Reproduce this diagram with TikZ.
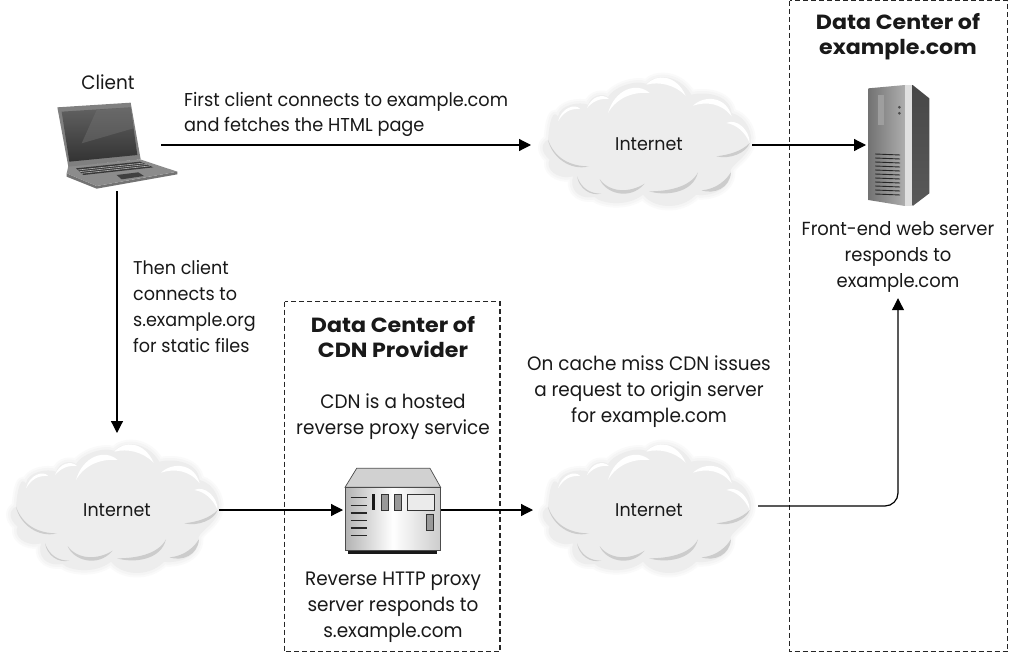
\documentclass[tikz,border=0pt]{standalone}
\usepackage{fontspec}
\setmainfont{Poppins}[FakeStretch=0.95]
\newfontfamily\headfont{Poppins}[FakeStretch=1.08,UprightFont=* Bold]
\usetikzlibrary{arrows.meta,calc}
\newcommand{\cloudoutline}{(85,240) .. controls (90,180) and (100,150) .. (115,170)
 .. controls (120,135) and (180,125) .. (205,135)
 .. controls (215,105) and (250,100) .. (265,112)
 .. controls (280,85) and (340,60) .. (380,72)
 .. controls (410,40) and (480,45) .. (515,105)
 .. controls (560,95) and (630,105) .. (636,160)
 .. controls (680,170) and (705,225) .. (690,262)
 .. controls (675,295) and (645,310) .. (633,330)
 .. controls (640,390) and (570,412) .. (530,405)
 .. controls (480,455) and (400,445) .. (370,405)
 .. controls (320,445) and (240,430) .. (225,412)
 .. controls (170,420) and (150,385) .. (160,350)
 .. controls (110,362) and (75,325) .. (90,300)
 .. controls (60,275) and (65,250) .. (85,240) -- cycle}
\tikzset{
 cloudpic/.pic={
  \begin{scope}[shift={(-129.33,-83.33)},scale=1/3]
   \draw[line width=9pt,color=black!2,line join=round,fill=black!2] \cloudoutline;
   \draw[line width=5pt,color=black!4,line join=round,fill=black!4] \cloudoutline;
   \fill[color=black!7] \cloudoutline;
   \fill[color=black!20] (85,240) .. controls (95,290) and (150,335) .. (208,320) .. controls (150,320) and (105,295) .. (85,240) -- cycle;
   \fill[color=black!20] (172,350) .. controls (178,385) and (210,410) .. (245,402) .. controls (210,402) and (185,385) .. (172,350) -- cycle;
   \fill[color=black!20] (240,358) .. controls (255,400) and (330,425) .. (375,372) .. controls (330,400) and (270,400) .. (240,358) -- cycle;
   \fill[color=black!20] (388,395) .. controls (440,410) and (520,400) .. (535,338) .. controls (510,385) and (440,395) .. (388,395) -- cycle;
   \fill[color=black!20] (545,392) .. controls (585,405) and (630,385) .. (634,338) .. controls (610,375) and (575,390) .. (545,392) -- cycle;
   \fill[color=black!20] (590,290) .. controls (630,300) and (680,280) .. (690,250) .. controls (665,275) and (630,285) .. (590,290) -- cycle;
   \fill[white] (115,185) .. controls (125,145) and (165,130) .. (182,148) .. controls (150,145) and (130,160) .. (115,185) -- cycle;
   \fill[white] (202,145) .. controls (215,110) and (250,100) .. (268,118) .. controls (240,115) and (220,125) .. (202,145) -- cycle;
   \fill[white] (265,160) .. controls (285,90) and (350,65) .. (390,100) .. controls (340,95) and (290,115) .. (265,160) -- cycle;
   \fill[white] (380,75) .. controls (410,40) and (470,45) .. (498,108) .. controls (465,75) and (420,65) .. (380,75) -- cycle;
   \fill[white] (520,138) .. controls (555,105) and (620,110) .. (636,170) .. controls (605,130) and (560,125) .. (520,138) -- cycle;
   \fill[white] (620,190) .. controls (650,175) and (690,210) .. (690,250) .. controls (675,215) and (650,195) .. (620,190) -- cycle;
  \end{scope}
 },
 lbl/.style={inner sep=0pt,align=center,font=\fontsize{19.4}{25.8}\selectfont,text=black!90},
 lbll/.style={lbl,align=left,anchor=west},
 tight/.style={font=\fontsize{#1}{25.8}\selectfont},
 head/.style={lbl,font=\fontsize{20.5}{25.5}\selectfont\headfont},
 hold/.style={inner sep=0pt,outer sep=0pt},
 zone/.style={draw=black!85,line width=1.2pt,dash pattern=on 5pt off 3pt},
 link/.style={draw=black,line width=1.2pt,-{Triangle[length=12pt,width=12pt]}},
}
\begin{document}
\begin{tikzpicture}[x=1pt,y=-1pt]
\useasboundingbox (0,0) rectangle (1009,653);
\fill[white] (0,0) rectangle (1009,653);
% dashed zones
\draw[zone] (789.5,0.8) rectangle (1007.5,651.8);
\draw[zone] (284.5,301.5) rectangle (500,651.8);
% anchors for icons and clouds
\node[hold,minimum width=88pt,minimum height=92pt] (laptop) at (117,145) {};
\node[hold,minimum width=221pt,minimum height=150pt] (cloudA) at (641.5,145) {};
\node[hold,minimum width=204pt,minimum height=154pt] (cloudB) at (117,510) {};
\node[hold,minimum width=225pt,minimum height=150pt] (cloudC) at (645.5,510) {};
\node[hold,minimum width=98pt,minimum height=86pt] (proxy) at (392,510) {};
\node[hold,minimum width=64pt,minimum height=122pt] (server) at (898,145) {};
% clouds
\pic at (649,143) {cloudpic};
\pic at (117,510) {cloudpic};
\pic at (649,510) {cloudpic};
% laptop
\begin{scope}[shift={(40,60)},scale=1/3]
 \fill[black!55] (80,340) -- (170,378) -- (412,335) -- (412,343) -- (170,386) -- (80,350) -- cycle;
 \fill[black!45] (85,318) -- (300,298) -- (412,335) -- (170,378) -- (80,340) -- cycle;
 \fill[black!78] (108,325) -- (300,305) -- (340,322) -- (130,345) -- cycle;
 \foreach \t in {0.25,0.5,0.75}{
  \draw[black!30,line width=0.6pt] ($(108,325)!\t!(130,345)$) -- ($(300,305)!\t!(340,322)$);
 }
 \fill[black!75] (230,345) -- (295,337) -- (312,348) -- (245,358) -- cycle;
 \fill[black!50] (52,142) -- (272,128) -- (302,298) -- (85,320) -- cycle;
 \shade[top color=black!62,bottom color=black!80] (65,155) -- (272,142) -- (292,285) -- (88,305) -- cycle;
 \fill[black!55,opacity=.45] (170,150) -- (272,142) -- (280,205) -- (125,250) -- cycle;
\end{scope}
% server
\begin{scope}[shift={(780,0)},scale=1/3]
 \shade[left color=black!55,right color=black!32] (265,265) -- (375,255) -- (375,618) -- (265,600) -- cycle;
 \fill[black!12] (375,255) -- (398,255) -- (398,618) -- (375,618) -- cycle;
 \shade[top color=black!72,middle color=black!28,bottom color=black!65] (398,255) -- (448,295) -- (448,580) -- (398,618) -- cycle;
 \fill[black!38] (295,285) rectangle (312,375);
 \fill[black!70] (358,322) circle (4.5);
 \fill[black!70] (358,340) circle (4.5);
 \foreach \y in {462,474,486,498,510,522,534,546,558,570,582}{
  \draw[black!85,line width=0.9pt] (285,\y) -- (360,\y+3);
 }
\end{scope}
% proxy
\begin{scope}[shift={(320,450)},scale=1/3]
 \fill[black!90] (85,298) rectangle (352,313);
 \draw[black!70,fill=black!18,line width=0.7pt] (110,55) -- (330,55) -- (362,112) -- (75,112) -- cycle;
 \shade[left color=black!30,right color=black!20,middle color=white,draw=black!70,line width=0.7pt] (75,112) rectangle (362,300);
 \foreach \y in {143,166,189,211,234,257}{
  \draw[black!85,line width=1.2pt] (92,\y) -- (140,\y);
 }
 \fill[black!90] (157,133) rectangle (165,180);
 \draw[black!80,fill=black!40,line width=0.7pt] (184,133) rectangle (206,180);
 \draw[black!80,fill=black!40,line width=0.7pt] (223,133) rectangle (245,180);
 \draw[black!80,fill=black!8,line width=0.7pt] (263,133) rectangle (342,180);
 \draw[black!80,fill=black!40,line width=0.7pt] (318,193) rectangle (340,242);
\end{scope}
% text
\node[lbl] (tClient) at (108,82) {Client};
\node[lbll,tight=18.65] (tFirst) at (184,114.5) {First client connects to example.com\\and fetches the HTML page};
\node[lbll,tight=18.5] (tThen) at (133,306.5) {Then client\\connects to\\s.example.org\\for static files};
\node[head] (tCdnHead) at (393,337) {Data Center of\\CDN Provider};
\node[lbl] (tCdn) at (393,417) {CDN is a hosted\\reverse proxy service};
\node[lbl] (tRev) at (393,607) {Reverse HTTP proxy\\server responds to\\s.example.com};
\node[lbl] (tMiss) at (649,391.5) {On cache miss CDN issues\\a request to origin server\\for example.com};
\node[head] (tDcHead) at (898,36.5) {Data Center of\\example.com};
\node[lbl,tight=18.9,minimum height=82pt] (tFront) at (898,257) {Front-end web server\\responds to\\example.com};
\node[lbl,tight=18.4] (tNetA) at (649,144) {Internet};
\node[lbl,tight=18.4] (tNetB) at (117,510.5) {Internet};
\node[lbl,tight=18.4] (tNetC) at (649,510.5) {Internet};
% connectors
\draw[link] (laptop.east) -- (cloudA.west);
\draw[link] (cloudA.east) -- (server.west);
\draw[link] (laptop.south) -- (cloudB.north);
\draw[link] (cloudB.east) -- (proxy.west);
\draw[link] (proxy.east) -- (cloudC.west);
\coordinate (missOut) at ([yshift=4pt]cloudC.east);
\draw[link,rounded corners=13pt] (missOut) -| (tFront.south);
\end{tikzpicture}
\end{document}
